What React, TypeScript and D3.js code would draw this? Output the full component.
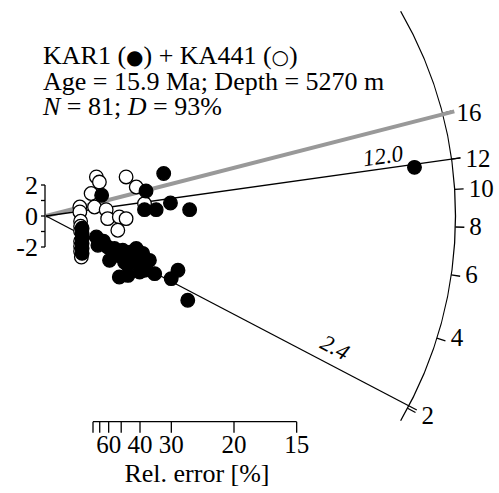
import { useEffect, useState } from 'react'
import * as d3 from 'd3'

// radial plot: x = precision (1/sigma), y = standardised estimate
const centralAge = 8.54
const stratAge = 15.9
const peakAges = [12.0, 2.4]
const peakLabels = ['12.0', '2.4']
const arcTickAges = [2, 4, 6, 8, 10, 12, 16]
const relErrTicks = [80, 70, 60, 50, 40, 30, 20, 15]
const relErrLabels = [60, 40, 30, 20, 15]
const yTicks = [-2, -1, 0, 1, 2]
const yLabels = [-2, 0, 2]

// KAR1 (filled)
const kar1Precision = [3.13, 2.66, 1.48, 2.62, 2.93, 3.31, 3.82, 9.8, 0.96, 0.96, 0.96, 0.96, 0.96, 0.96, 1.34, 1.38, 1.64, 1.69, 1.95, 2.18, 2.04, 2.27, 2.35, 2.49, 2.62, 2.75, 2.89, 2.49, 2.18, 1.91, 3.33, 3.51, 3.77, 1.82, 2.4, 2.57, 2.09, 1.53]
const kar1Std = [2.74, 1.61, 1.34, 0.41, 0.41, 0.84, 0.41, 3.14, -0.79, -1.12, -1.44, -1.76, -2.08, -2.41, -1.35, -1.89, -2.0, -2.86, -3.94, -3.83, -2.21, -2.32, -2.75, -3.07, -3.5, -2.86, -3.72, -3.61, -3.18, -2.54, -4.04, -3.5, -5.44, -2.1, -2.1, -2.41, -2.99, -1.63]

// KA441 (open)
const ka441Precision = [1.34, 1.42, 2.13, 2.4, 1.2, 0.9, 0.9, 1.29, 1.6, 1.64, 1.95, 2.13, 1.91, 2.62, 0.92, 0.92, 0.92, 0.92, 0.92, 0.92, 0.94]
const ka441Std = [2.52, 2.19, 2.52, 1.87, 1.45, 0.58, 0.26, 0.58, 0.41, -0.17, -0.06, -0.17, -0.92, 0.8, -0.34, -0.66, -0.98, -1.63, -1.95, -2.28, -2.65]

const W = 499
const H = 493
const x0 = 46
const y0 = 216
const kx = 37.6
const ky = 15.5
const R = 409.5
const FONT = 'Liberation Serif'
const serif = { fontFamily: `"${FONT}"` }

export default function App() {
  const [, setReady] = useState(0)
  useEffect(() => {
    if (document.fonts) {
      document.fonts.load(`26px "${FONT}"`).then(() => setReady(r => r + 1))
      document.fonts.load(`italic 26px "${FONT}"`).then(() => setReady(r => r + 1))
    }
  }, [])

  const xScale = d3.scaleLinear().domain([0, 10]).range([x0, x0 + 10 * kx])
  const yScale = d3.scaleLinear().domain([-4, 4]).range([y0 + 4 * ky, y0 - 4 * ky])
  const z0 = Math.log(centralAge)

  // screen angle of the ray for an age
  const angleOf = (t: number) => {
    const dx = xScale(1) - x0
    const dy = yScale(Math.log(t) - z0) - y0
    return Math.atan2(dy, dx)
  }
  const polar = (a: number, r: number) => [x0 + r * Math.cos(a), y0 + r * Math.sin(a)]

  const arcStart = -Math.PI / 6
  const arcEnd = Math.PI / 6
  const arcPath = d3.path()
  const [sx, sy] = polar(arcStart, R)
  arcPath.moveTo(sx, sy)
  arcPath.arc(x0, y0, R, arcStart, arcEnd)

  // ticks past the end of the arc get pulled back onto it
  const maxTick = (28 * Math.PI) / 180

  const kar1 = kar1Precision.map((p, i) => [xScale(p), yScale(kar1Std[i])])
  const ka441 = ka441Precision.map((p, i) => [xScale(p), yScale(ka441Std[i])])

  const axisY = 421.7
  const errX = (e: number) => xScale(100 / e)

  const stratA = angleOf(stratAge)
  const [gx, gy] = polar(stratA, R + 12)

  return (
    <div style={serif}>
      <svg width={W} height={H} fontFamily={FONT} style={{ position: 'absolute', left: 0, top: 0, ...serif }}>
        <rect width={W} height={H} fill="#fff" />
        {/* header */}
        <text x={43} y={64} fontSize={26} style={serif}>
          KAR1 (<tspan style={{ fontFamily: '"DejaVu Sans"' }} fontSize={20}>●</tspan>) + KA441 (<tspan style={{ fontFamily: '"DejaVu Sans"' }} fontSize={20}>○</tspan>)
        </text>
        <text x={43} y={90} fontSize={26} style={serif}>Age = 15.9 Ma; Depth = 5270 m</text>
        <text x={43} y={115} fontSize={26} style={serif}>
          <tspan fontStyle="italic">N</tspan> = 81; <tspan fontStyle="italic">D</tspan> = 93%
        </text>

        {/* arc scale */}
        <path d={arcPath.toString()} fill="none" stroke="#000" strokeWidth={1.3} />
        {arcTickAges.map(t => {
          const raw = angleOf(t)
          const a = Math.min(raw, maxTick)
          const [ax, ay] = polar(a, R)
          const [bx, by] = polar(a, R + 9)
          return (
            <g key={t}>
              <line x1={ax} y1={ay} x2={bx} y2={by} stroke="#000" strokeWidth={1.3} />
              <text x={ax + 14} y={ay + (raw > maxTick ? 16 : 8)} fontSize={25} style={serif}>{t}</text>
            </g>
          )
        })}

        {/* stratigraphic age */}
        <line x1={x0} y1={y0} x2={gx} y2={gy} stroke="#999" strokeWidth={4} />

        {/* peak age rays */}
        {peakAges.map((t, i) => {
          const a = angleOf(t)
          const [ex, ey] = polar(a, R + 9)
          const along = i === 0 ? 342 : 317
          const off = i === 0 ? -5 : -10
          return (
            <g key={t}>
              <line x1={x0} y1={y0} x2={ex} y2={ey} stroke="#000" strokeWidth={1.3} />
              <text
                transform={`translate(${x0},${y0}) rotate(${(a * 180) / Math.PI})`}
                x={along}
                y={off}
                textAnchor="middle"
                fontStyle="italic"
                fontSize={23}
                style={serif}
              >
                {peakLabels[i]}
              </text>
            </g>
          )
        })}

        {/* y axis */}
        <line x1={x0 - 1} y1={yScale(2)} x2={x0 - 1} y2={yScale(-2)} stroke="#000" strokeWidth={1.3} />
        {yTicks.map(v => (
          <line key={v} x1={x0 - 5} y1={yScale(v)} x2={x0 - 1} y2={yScale(v)} stroke="#000" strokeWidth={1.3} />
        ))}
        {yLabels.map(v => (
          <text key={v} x={38} y={yScale(v) + 9} textAnchor="end" fontSize={26} style={serif}>{v}</text>
        ))}

        {/* points */}
        {ka441.map(([px, py], i) => (
          <circle key={'o' + i} cx={px} cy={py} r={6.8} fill="#fff" stroke="#000" strokeWidth={1.3} />
        ))}
        {kar1.map(([px, py], i) => (
          <circle key={'f' + i} cx={px} cy={py} r={6.8} fill="#000" stroke="#000" strokeWidth={1.3} />
        ))}

        {/* relative error axis */}
        <line x1={errX(80)} y1={axisY} x2={errX(15)} y2={axisY} stroke="#000" strokeWidth={1.3} />
        {relErrTicks.map(e => (
          <line key={e} x1={errX(e)} y1={axisY} x2={errX(e)} y2={axisY + 11} stroke="#000" strokeWidth={1.3} />
        ))}
        {relErrLabels.map(e => (
          <text key={e} x={errX(e)} y={453} textAnchor="middle" fontSize={25} style={serif}>{e}</text>
        ))}
        <text x={197} y={482} textAnchor="middle" fontSize={26} style={serif}>Rel. error [%]</text>
      </svg>
    </div>
  )
}
